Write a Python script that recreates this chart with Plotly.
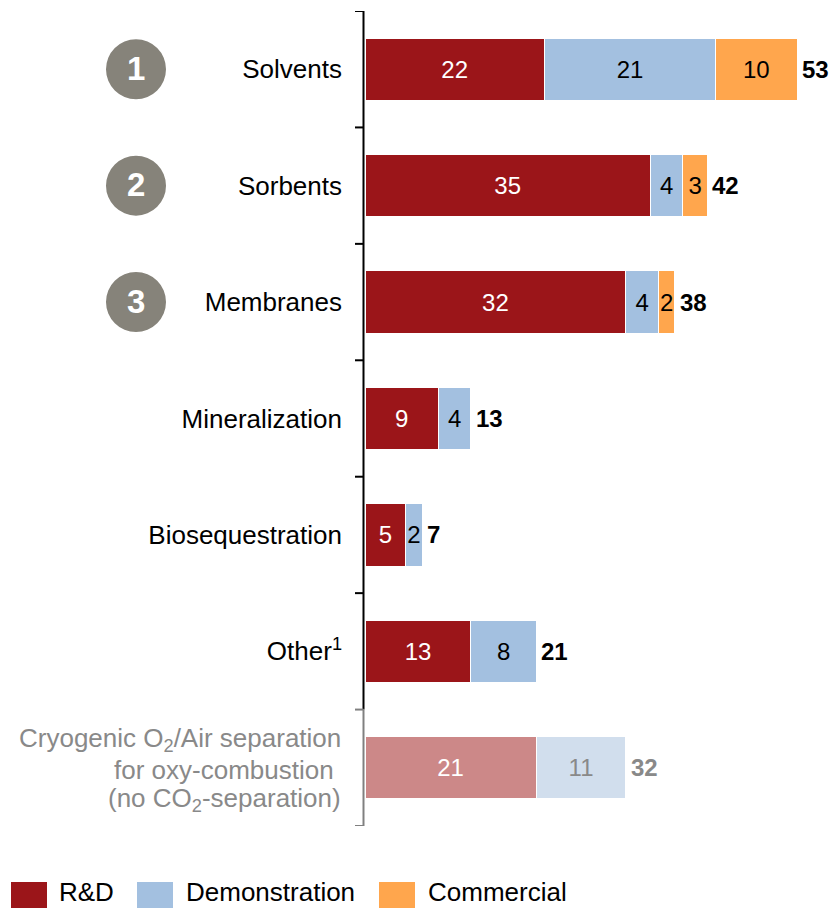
import plotly.graph_objects as go

categories = ["Solvents", "Sorbents", "Membranes", "Mineralization",
              "Biosequestration", "Other<sup>1</sup>", "Cryogenic"]
rnd = [22, 35, 32, 9, 5, 13, 21]
demo = [21, 4, 4, 4, 2, 8, 11]
commercial = [10, 3, 2, 0, 0, 0, 0]
ranked = ["1", "2", "3"]
cryo_lines = ["Cryogenic O<sub>2</sub>/Air separation",
              "for oxy-combustion\u00a0",
              "(no CO<sub>2</sub>-separation)"]

FONT = "Liberation Sans, Arial, sans-serif"
RED, BLUE, ORANGE = "#9B1519", "#A3C0E0", "#FFA64D"
RED_F, BLUE_F = "#CC8888", "#D1DEED"
GREY = "#898989"
CIRCLE = "#86837A"

n = len(categories)
ypos = list(range(n))
faded = [False] * (n - 1) + [True]


def add_series(vals, name, colors, tcolors):
    idx = [i for i, v in enumerate(vals) if v]
    fig.add_trace(go.Bar(
        y=[ypos[i] for i in idx], x=[vals[i] for i in idx], orientation="h", name=name,
        marker=dict(color=[colors[i] for i in idx], line=dict(color="white", width=1)),
        text=[str(vals[i]) for i in idx], textposition="inside", insidetextanchor="middle",
        textangle=0, width=0.535,
        textfont=dict(family=FONT, size=24, color=[tcolors[i] for i in idx])))


fig = go.Figure()
add_series(rnd, "R&D", [RED_F if f else RED for f in faded], ["white"] * n)
add_series(demo, "Demonstration", [BLUE_F if f else BLUE for f in faded],
           [GREY if f else "black" for f in faded])
add_series(commercial, "Commercial", [ORANGE] * n, ["black"] * n)

annotations = []
shapes = []
# totals
for i in range(n):
    tot = rnd[i] + demo[i] + commercial[i]
    annotations.append(dict(x=tot, y=i, xref="x", yref="y", text=f"<b>{tot}</b>",
                            showarrow=False, xanchor="left", xshift=3,
                            font=dict(family=FONT, size=24, color=GREY if faded[i] else "black")))
# cryogenic label
for k, line in enumerate(cryo_lines):
    annotations.append(dict(x=0, y=n - 1, xref="paper", yref="y", text=line, showarrow=False,
                            xanchor="right", xshift=-22, yshift=[28, -2, -32][k],
                            font=dict(family=FONT, size=26, color=GREY)))
# ranking circles
for i, r in enumerate(ranked):
    shapes.append(dict(type="circle", xref="paper", yref="y", xsizemode="pixel", ysizemode="pixel",
                       xanchor=0, yanchor=i, x0=-259, x1=-199, y0=-30, y1=30,
                       fillcolor=CIRCLE, line=dict(width=0)))
    annotations.append(dict(x=0, y=i, xref="paper", yref="y", text=f"<b>{r}</b>", showarrow=False,
                            xanchor="center", xshift=-229, yshift=1,
                            font=dict(family=FONT, size=33, color="white")))
# axis line and ticks
shapes.append(dict(type="line", xref="paper", yref="y", xsizemode="pixel", xanchor=0,
                   x0=-1.5, x1=-1.5, y0=-0.5, y1=n - 1.5, line=dict(color="black", width=2)))
for b in range(n - 1):
    shapes.append(dict(type="line", xref="paper", yref="y", xsizemode="pixel", xanchor=0,
                       x0=-10, x1=-1.5, y0=b - 0.5, y1=b - 0.5, line=dict(color="black", width=2)))
shapes.append(dict(type="line", xref="paper", yref="y", xsizemode="pixel", xanchor=0,
                   x0=-1.5, x1=-1.5, y0=n - 1.5, y1=n - 0.5, line=dict(color="#808080", width=2)))
for b in (n - 1.5, n - 0.5):
    shapes.append(dict(type="line", xref="paper", yref="y", xsizemode="pixel", xanchor=0,
                       x0=-10, x1=-1.5, y0=b, y1=b, line=dict(color="#808080", width=2)))
# legend
legend_items = [("R&D", RED, -354, -307), ("Demonstration", BLUE, -228, -180),
                ("Commercial", ORANGE, 14, 62)]
for name, col, sx, tx in legend_items:
    shapes.append(dict(type="rect", xref="paper", yref="paper", xsizemode="pixel", ysizemode="pixel",
                       xanchor=0, yanchor=0, x0=sx, x1=sx + 36, y0=-56, y1=-82,
                       fillcolor=col, line=dict(width=0)))
    annotations.append(dict(x=0, y=0, xref="paper", yref="paper", text=name, showarrow=False,
                            xanchor="left", yanchor="middle", xshift=tx, yshift=-66, borderpad=0,
                            font=dict(family=FONT, size=26, color="black")))

fig.update_layout(
    width=833, height=909, barmode="stack", showlegend=False,
    margin=dict(l=365, r=0, t=11, b=83),
    paper_bgcolor="white", plot_bgcolor="white",
    font=dict(family=FONT, size=26, color="black"),
    uniformtext=dict(minsize=24, mode="show"),
    xaxis=dict(range=[0, 57.4], visible=False, fixedrange=True),
    yaxis=dict(range=[n - 0.5, -0.5], tickvals=ypos[:-1], ticktext=categories[:-1],
               showgrid=False, zeroline=False, showline=False, ticks="",
               ticklabelstandoff=22, tickfont=dict(family=FONT, size=26, color="black")),
    shapes=shapes, annotations=annotations,
)
fig.write_html("out.html")
